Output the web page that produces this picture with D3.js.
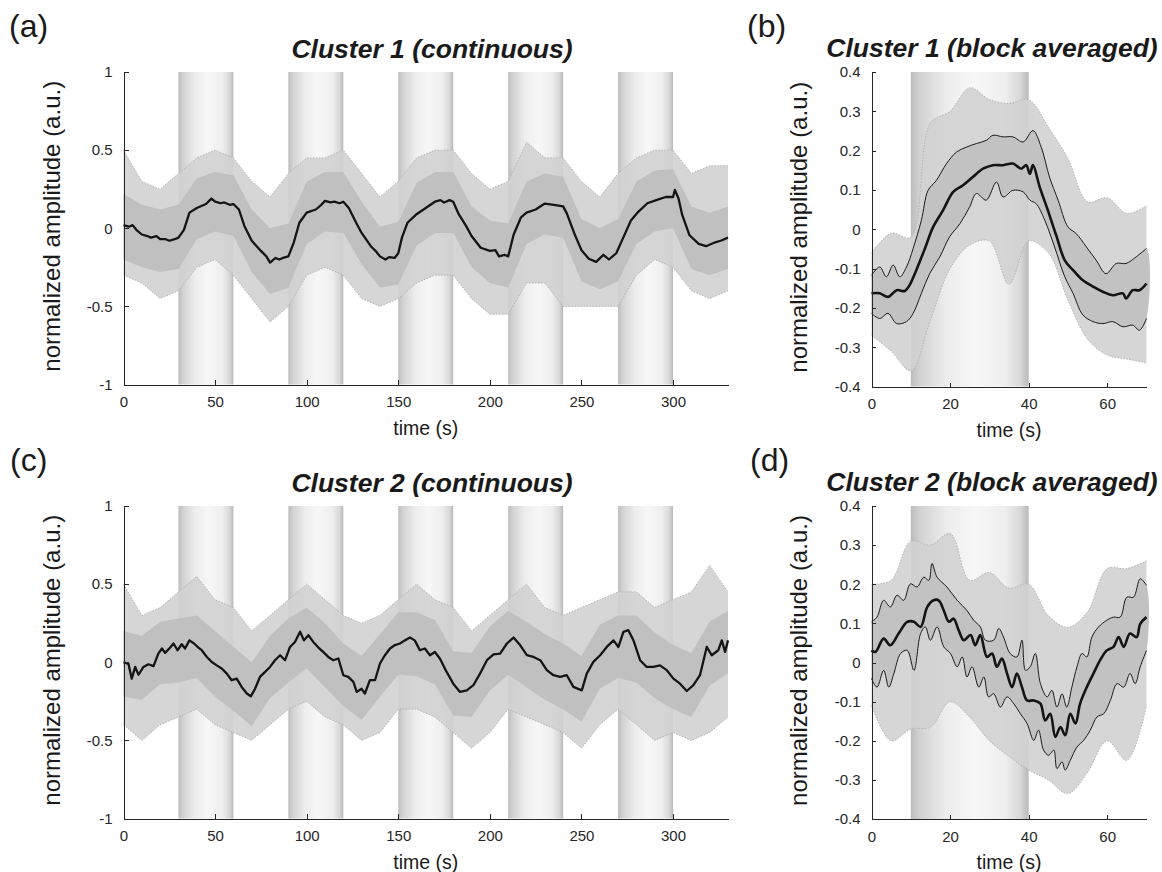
<!DOCTYPE html>
<html>
<head>
<meta charset="utf-8">
<title>Cluster time courses</title>
<style>
  body { margin: 0; background: #fff; }
  svg text { font-family: "Liberation Sans", Arial, Helvetica, sans-serif; fill: #1a1a1a; }
  .axis path, .axis line { stroke: #262626; stroke-width: 1; shape-rendering: crispEdges; }
  .axis text { font-size: 15px; fill: #262626; }
</style>
<script src="https://cdn.jsdelivr.net/npm/d3@7"></script>
</head>
<body>
<script>
// ---- data ----
var blocksCont = [[30, 60], [90, 120], [150, 180], [210, 240], [270, 300]];
var blocksAvg = [[10, 40]];
var xTicksCont = [0, 50, 100, 150, 200, 250, 300];
var xTicksAvg = [0, 20, 40, 60];
var yTicksCont = [-1, -0.5, 0, 0.5, 1];
var yTicksAvg = [-0.4, -0.3, -0.2, -0.1, 0, 0.1, 0.2, 0.3, 0.4];

// grid of the gray spread, seconds
var gridCont = [0,10,20,30,40,50,60,70,80,90,100,110,120,130,140,150,160,170,180,190,200,210,220,230,240,250,260,270,280,290,300,310,320,330];
var gridAvg = [0,5,10,15,20,25,30,35,40,45,50,55,60,65,70];

// cluster 1, continuous
var meanA = [[0,0.02],[3,0.01],[5,0.02],[7,-0.01],[10,-0.04],[13,-0.05],[15,-0.06],[18,-0.05],[20,-0.07],[23,-0.07],[25,-0.08],[28,-0.07],[30,-0.06],[33,-0.01],[36,0.10],[40,0.13],[45,0.155],[48,0.19],[50,0.17],[53,0.16],[55,0.165],[58,0.15],[60,0.155],[63,0.12],[66,0.015],[70,-0.08],[75,-0.145],[78,-0.18],[80,-0.22],[83,-0.19],[85,-0.2],[87,-0.19],[90,-0.18],[93,-0.09],[96,0.035],[100,0.10],[105,0.12],[108,0.15],[110,0.175],[113,0.165],[115,0.17],[118,0.16],[120,0.17],[123,0.13],[127,0.035],[130,-0.03],[135,-0.115],[138,-0.15],[140,-0.18],[143,-0.2],[145,-0.185],[148,-0.19],[150,-0.16],[152,-0.06],[155,0.035],[160,0.09],[165,0.13],[170,0.17],[173,0.18],[175,0.165],[178,0.18],[180,0.17],[183,0.09],[187,0.015],[190,-0.05],[195,-0.125],[200,-0.145],[203,-0.14],[205,-0.18],[208,-0.17],[210,-0.18],[213,-0.04],[217,0.07],[220,0.10],[225,0.12],[230,0.158],[235,0.15],[240,0.14],[242,0.095],[246,-0.03],[250,-0.14],[254,-0.195],[258,-0.215],[262,-0.17],[265,-0.2],[269,-0.16],[273,-0.055],[277,0.05],[281,0.105],[286,0.16],[292,0.185],[296,0.2],[300,0.2],[301,0.245],[303,0.19],[305,0.085],[309,-0.045],[314,-0.1],[318,-0.115],[323,-0.09],[326,-0.08],[330,-0.06]];
var outerHiA = [0.5,0.3,0.25,0.35,0.45,0.5,0.45,0.3,0.2,0.35,0.45,0.45,0.5,0.35,0.2,0.3,0.45,0.5,0.5,0.35,0.25,0.3,0.55,0.45,0.45,0.3,0.2,0.35,0.45,0.5,0.5,0.35,0.4,0.4];
var outerLoA = [-0.3,-0.35,-0.45,-0.4,-0.25,-0.2,-0.3,-0.45,-0.6,-0.5,-0.3,-0.25,-0.3,-0.45,-0.5,-0.45,-0.35,-0.3,-0.3,-0.45,-0.55,-0.55,-0.35,-0.35,-0.5,-0.5,-0.5,-0.5,-0.3,-0.2,-0.25,-0.4,-0.45,-0.4];
var coreHiA = [0.22,0.15,0.12,0.15,0.32,0.36,0.34,0.12,0.0,0.03,0.3,0.36,0.36,0.17,0.01,0.04,0.29,0.36,0.36,0.14,0.05,0.03,0.3,0.35,0.33,0.06,0.0,0.06,0.3,0.37,0.38,0.14,0.1,0.14];
var coreLoA = [-0.2,-0.25,-0.28,-0.26,-0.07,-0.02,-0.05,-0.28,-0.42,-0.38,-0.1,-0.02,-0.03,-0.23,-0.38,-0.36,-0.11,-0.03,-0.03,-0.25,-0.35,-0.38,-0.1,-0.04,-0.06,-0.34,-0.39,-0.34,-0.1,-0.02,0.0,-0.26,-0.3,-0.26];

// cluster 1, block averaged
var meanB = [[0,-0.163],[2.1,-0.163],[4.2,-0.172],[6.4,-0.155],[8.5,-0.157],[9.7,-0.142],[11.4,-0.104],[13.6,-0.049],[15.7,0.006],[18.2,0.048],[20.8,0.095],[23.3,0.112],[25.8,0.133],[28.4,0.154],[30.9,0.163],[33.5,0.163],[36,0.167],[38.1,0.154],[39.4,0.163],[40.3,0.141],[41.1,0.163],[42.8,0.108],[44.9,0.048],[47,-0.015],[49.2,-0.079],[51.3,-0.104],[53.8,-0.13],[56.4,-0.146],[58.9,-0.159],[61.4,-0.168],[64,-0.163],[64.8,-0.176],[66.5,-0.155],[68.2,-0.155],[70,-0.138]];
var upperB = [[0,-0.117],[2.1,-0.096],[3.8,-0.121],[5.5,-0.091],[7.2,-0.121],[8.9,-0.096],[10.6,-0.049],[12.7,0.023],[14.4,0.099],[16.5,0.124],[19.1,0.167],[21.6,0.196],[24.2,0.209],[26.7,0.218],[29.2,0.226],[30.9,0.239],[33.5,0.235],[36,0.235],[38.6,0.222],[41.1,0.251],[43.2,0.209],[45.3,0.133],[47.5,0.074],[50,0.006],[52.1,-0.011],[54.7,-0.045],[57.2,-0.079],[59.7,-0.113],[62.3,-0.087],[64.8,-0.087],[67.4,-0.07],[70,-0.049]];
var lowerB = [[0,-0.214],[2.1,-0.227],[4.2,-0.214],[6.4,-0.24],[8.9,-0.235],[10.6,-0.214],[12.7,-0.163],[14.8,-0.113],[17.4,-0.07],[19.9,-0.019],[22.5,0.014],[25,0.057],[26.7,0.091],[29.2,0.074],[31.8,0.12],[33.5,0.082],[36,0.099],[38.6,0.095],[40.3,0.074],[41.9,0.065],[44.1,0.023],[46.6,-0.045],[49.2,-0.121],[51.3,-0.163],[53.8,-0.218],[56.4,-0.235],[58.9,-0.24],[61.4,-0.235],[64,-0.248],[66.5,-0.244],[68.2,-0.257],[70,-0.227]];
var outerHiB = [-0.06,-0.01,-0.02,0.27,0.3,0.36,0.33,0.32,0.33,0.26,0.18,0.07,0.08,0.04,0.06];
var outerLoB = [-0.27,-0.31,-0.36,-0.23,-0.1,-0.04,-0.03,-0.14,-0.03,-0.06,-0.18,-0.28,-0.32,-0.33,-0.34];

// cluster 2, continuous
var meanC = [[0,0],[2.7,-0.01],[4.5,-0.105],[6.4,-0.03],[8.2,-0.08],[10.9,-0.03],[13.6,-0.013],[16.4,-0.025],[19,0.055],[21,0.088],[22.7,0.06],[25.5,0.094],[27.3,0.12],[29.5,0.077],[31.8,0.115],[33.6,0.088],[36,0.14],[38.5,0.12],[40.9,0.094],[42.7,0.077],[45.5,0.034],[48.2,0.002],[50.9,-0.02],[53.6,-0.04],[56.4,-0.073],[59,-0.115],[61.8,-0.105],[64.5,-0.158],[67.3,-0.2],[69.5,-0.218],[71.8,-0.17],[74.5,-0.094],[77.3,-0.062],[80,-0.03],[82.7,0.013],[85.5,0.045],[88.2,0.013],[90.9,0.098],[93.6,0.13],[96.4,0.195],[98.5,0.14],[100.9,0.173],[103.6,0.13],[106.4,0.094],[109,0.066],[111.8,0.034],[114.5,0.013],[117.3,0.024],[120,-0.083],[122.7,-0.094],[125.5,-0.126],[127.3,-0.19],[130,-0.17],[131.8,-0.2],[134.5,-0.115],[137.3,-0.115],[140,-0.008],[142.7,0.045],[145.5,0.088],[148.2,0.11],[150.9,0.12],[153.6,0.14],[156.4,0.158],[159,0.14],[161.8,0.077],[164.5,0.088],[167.3,0.045],[170,0.066],[172.7,0.024],[176.4,-0.062],[180,-0.137],[183.7,-0.19],[187.4,-0.18],[191,-0.147],[194.6,-0.073],[198.4,0.013],[202,0.05],[205.6,0.055],[209.3,0.12],[212.9,0.158],[216.5,0.11],[220.2,0.045],[223.8,0.034],[227.5,0.013],[231.1,-0.05],[234.7,-0.083],[238.3,-0.094],[242,-0.083],[245.6,-0.158],[250.2,-0.18],[252.9,-0.073],[256.5,0.002],[260.2,0.045],[263.8,0.098],[267.5,0.14],[270.2,0.098],[272.9,0.195],[275.6,0.205],[278.4,0.14],[282,0.013],[285.6,-0.03],[289.3,-0.03],[292.9,-0.02],[296.5,-0.05],[300.2,-0.105],[303.8,-0.137],[307.5,-0.184],[311.1,-0.147],[314.7,-0.083],[318.4,0.098],[321.1,0.045],[324.7,0.077],[326.6,0.14],[328.4,0.066],[330,0.14]];
var outerHiC = [0.5,0.3,0.35,0.45,0.55,0.4,0.35,0.2,0.3,0.4,0.5,0.4,0.3,0.25,0.3,0.4,0.5,0.4,0.35,0.2,0.3,0.4,0.5,0.35,0.3,0.35,0.4,0.45,0.45,0.35,0.4,0.45,0.62,0.45];
var outerLoC = [-0.4,-0.5,-0.4,-0.35,-0.3,-0.4,-0.45,-0.5,-0.4,-0.3,-0.25,-0.35,-0.4,-0.5,-0.45,-0.3,-0.3,-0.35,-0.45,-0.55,-0.45,-0.3,-0.35,-0.4,-0.45,-0.55,-0.4,-0.3,-0.4,-0.5,-0.45,-0.5,-0.45,-0.35];
var coreHiC = [0.2,0.17,0.26,0.28,0.3,0.2,0.1,0.0,0.17,0.28,0.35,0.25,0.12,0.04,0.18,0.32,0.32,0.27,0.07,0.06,0.23,0.33,0.26,0.18,0.12,0.04,0.24,0.3,0.3,0.19,0.11,0.06,0.26,0.33];
var coreLoC = [-0.22,-0.24,-0.14,-0.13,-0.1,-0.22,-0.31,-0.41,-0.23,-0.13,-0.04,-0.16,-0.28,-0.37,-0.22,-0.08,-0.09,-0.14,-0.34,-0.35,-0.18,-0.08,-0.16,-0.24,-0.3,-0.38,-0.17,-0.1,-0.13,-0.23,-0.3,-0.35,-0.15,-0.07];

// cluster 2, block averaged
var meanD = [[0,0.031],[1,0.027],[3.1,0.061],[4.8,0.044],[6.9,0.074],[9.1,0.104],[10.8,0.104],[12.5,0.091],[14.2,0.142],[15.8,0.159],[17.1,0.159],[18.4,0.133],[19.7,0.104],[20.9,0.112],[22.2,0.082],[23.5,0.057],[25.2,0.07],[26.4,0.044],[27.7,0.07],[29.4,0.014],[30.7,0.023],[31.9,-0.011],[33.2,0.01],[34.5,-0.028],[35.8,-0.063],[37,-0.028],[38.3,-0.063],[39.6,-0.097],[41.3,-0.097],[43,-0.105],[44.2,-0.148],[45.5,-0.131],[46.8,-0.19],[48.1,-0.165],[49.3,-0.186],[50.6,-0.131],[51.9,-0.156],[53.1,-0.105],[54.8,-0.063],[56.5,-0.028],[58.2,0.006],[59.9,0.031],[61.6,0.04],[62.9,0.065],[64.2,0.04],[65.8,0.074],[67.5,0.065],[68.4,0.099],[70,0.116]];
var upperD = [[0,0.104],[1.4,0.116],[3.1,0.159],[4.8,0.142],[6.5,0.172],[8.2,0.159],[9.9,0.201],[11.6,0.193],[13.3,0.218],[14.6,0.21],[15.4,0.253],[16.7,0.218],[19.2,0.193],[21.8,0.159],[24.3,0.133],[26,0.108],[27.7,0.091],[29,0.057],[31.1,0.057],[32.4,0.087],[33.6,0.065],[35.3,0.023],[37,0.014],[38.3,0.057],[39.2,-0.02],[40.4,-0.011],[41.7,0.023],[43,-0.054],[44.7,-0.088],[45.9,-0.071],[47.2,-0.114],[48.5,-0.08],[49.7,-0.114],[51,-0.063],[52.3,-0.011],[53.6,0.023],[54.8,0.014],[56.1,0.065],[57.8,0.091],[59.9,0.108],[61.6,0.116],[63.3,0.116],[65,0.167],[66.7,0.167],[68.4,0.214],[70,0.197]];
var lowerD = [[0,-0.041],[1.4,-0.063],[3.1,-0.02],[4.4,-0.063],[5.7,-0.028],[7.4,0.023],[9.1,0.031],[10.8,-0.02],[12.5,0.074],[13.7,0.091],[15,0.057],[16.7,0.091],[18.4,0.04],[20.1,0.023],[21.8,-0.011],[23.1,0.014],[24.3,-0.037],[25.6,-0.011],[27.3,-0.063],[28.6,-0.037],[29.8,-0.088],[31.1,-0.08],[32.8,-0.114],[34.5,-0.088],[36.2,-0.105],[37.9,-0.131],[39.6,-0.156],[41.3,-0.199],[42.5,-0.173],[43.8,-0.224],[45.1,-0.237],[46.4,-0.224],[47.2,-0.271],[48.5,-0.254],[49.3,-0.275],[50.6,-0.25],[52.3,-0.216],[54,-0.199],[55.7,-0.173],[57.4,-0.139],[59.1,-0.131],[60.8,-0.097],[62.5,-0.054],[64.2,-0.063],[65.8,-0.028],[67.1,-0.054],[68.4,-0.011],[70,0.031]];
var outerHiD = [0.2,0.21,0.31,0.3,0.33,0.21,0.23,0.19,0.2,0.12,0.09,0.13,0.24,0.24,0.26];
var outerLoD = [-0.11,-0.2,-0.17,-0.165,-0.1,-0.14,-0.2,-0.24,-0.275,-0.3,-0.335,-0.28,-0.2,-0.25,-0.11];

var svg = d3.select("body").append("svg")
    .attr("width", 1162)
    .attr("height", 872);

// block shading, dark at the edges and pale in the middle
var grad = svg.append("defs").append("linearGradient")
    .attr("id", "shade")
    .attr("x1", 0).attr("x2", 1).attr("y1", 0).attr("y2", 0);
[[0, "#bcbcbc"], [0.08, "#d2d2d2"], [0.3, "#ededed"], [0.55, "#f7f7f7"], [0.8, "#eeeeee"], [0.93, "#d8d8d8"], [1, "#b8b8b8"]]
  .forEach(function(s) {
    grad.append("stop").attr("offset", s[0]).attr("stop-color", s[1]);
  });

function fmt(v) { return String(v); }

function drawPanel(p) {
  var x = d3.scaleLinear().domain(p.xDomain).range([p.left, p.right]);
  var y = d3.scaleLinear().domain(p.yDomain).range([p.bottom, p.top]);
  var g = svg.append("g");
  var curve = p.smooth ? d3.curveCatmullRom : d3.curveLinear;

  g.selectAll("rect.block")
    .data(p.blocks)
    .join("rect")
      .attr("class", "block")
      .attr("x", function(d) { return x(d[0]); })
      .attr("width", function(d) { return x(d[1]) - x(d[0]); })
      .attr("y", p.top)
      .attr("height", p.bottom - p.top)
      .attr("fill", "url(#shade)");

  // gray individual traces, shown as their spread
  var outer = d3.zip(p.grid, p.outerLo, p.outerHi);
  var area = d3.area()
      .x(function(d) { return x(d[0]); })
      .y0(function(d) { return y(d[1]); })
      .y1(function(d) { return y(d[2]); })
      .curve(curve);
  g.append("path")
      .attr("d", area(outer))
      .attr("fill", "#d2d2d2")
      .attr("opacity", 0.9);

  var edge = d3.line()
      .x(function(d) { return x(d[0]); })
      .y(function(d) { return y(d[1]); })
      .curve(curve);

  if (p.coreHi) {
    var core = d3.zip(p.grid, p.coreLo, p.coreHi);
    g.append("path")
        .attr("d", area(core))
        .attr("fill", "#c0c0c0");
  } else {
    var ring = p.upper.concat(p.lower.slice().reverse());
    g.append("path")
        .attr("d", edge(ring) + "Z")
        .attr("fill", "#c2c2c2");
  }

  [p.outerLo, p.outerHi].forEach(function(arr) {
    g.append("path")
        .attr("d", edge(d3.zip(p.grid, arr)))
        .attr("fill", "none")
        .attr("stroke", "#b4b4b4")
        .attr("stroke-width", 1)
        .attr("stroke-dasharray", "1.5,1.5");
  });

  if (p.upper) {
    [p.upper, p.lower].forEach(function(arr) {
      g.append("path")
          .attr("d", edge(arr))
          .attr("fill", "none")
          .attr("stroke", "#1a1a1a")
          .attr("stroke-width", 1);
    });
  }

  g.append("path")
      .attr("d", edge(p.mean))
      .attr("fill", "none")
      .attr("stroke", "#141414")
      .attr("stroke-width", p.meanWidth)
      .attr("stroke-linejoin", "round");

  // axes, ticks pointing inward
  g.append("g")
      .attr("class", "axis")
      .attr("transform", "translate(" + p.left + ",0)")
      .call(d3.axisLeft(y).tickValues(p.yTicks).tickFormat(fmt)
        .tickSizeInner(-p.tick).tickSizeOuter(0).tickPadding(11));
  g.append("g")
      .attr("class", "axis")
      .attr("transform", "translate(0," + p.bottom + ")")
      .call(d3.axisBottom(x).tickValues(p.xTicks).tickFormat(fmt)
        .tickSizeInner(-p.tick).tickSizeOuter(0).tickPadding(12));

  g.append("text")
      .attr("x", (p.left + p.right) / 2)
      .attr("y", p.bottom + 50)
      .attr("text-anchor", "middle")
      .style("font-size", "19.5px")
      .text("time (s)");

  g.append("text")
      .attr("transform", "translate(" + p.ylabX + "," + ((p.top + p.bottom) / 2 - 2) + ") rotate(-90)")
      .attr("text-anchor", "middle")
      .style("font-size", "24px")
      .text("normalized amplitude (a.u.)");

  g.append("text")
      .attr("x", p.titleX)
      .attr("y", p.titleY)
      .attr("text-anchor", "middle")
      .style("font-size", "26.5px")
      .style("font-weight", "bold")
      .style("font-style", "italic")
      .text(p.title);

  g.append("text")
      .attr("x", p.tagX)
      .attr("y", p.tagY)
      .style("font-size", "32px")
      .text(p.tag);
}

drawPanel({
  tag: "(a)", tagX: 9, tagY: 37,
  title: "Cluster 1 (continuous)", titleX: 432, titleY: 58,
  left: 123.5, right: 728, top: 72, bottom: 384.5, ylabX: 60, tick: 5,
  xDomain: [0, 330], yDomain: [-1, 1], xTicks: xTicksCont, yTicks: yTicksCont,
  blocks: blocksCont, grid: gridCont, outerHi: outerHiA, outerLo: outerLoA,
  coreHi: coreHiA, coreLo: coreLoA, mean: meanA, meanWidth: 2.3
});
drawPanel({
  tag: "(b)", tagX: 747, tagY: 37,
  title: "Cluster 1 (block averaged)", titleX: 992, titleY: 57,
  left: 871.5, right: 1146.5, top: 72, bottom: 386.5, ylabX: 807, tick: 4,
  xDomain: [0, 70], yDomain: [-0.4, 0.4], xTicks: xTicksAvg, yTicks: yTicksAvg,
  blocks: blocksAvg, grid: gridAvg, outerHi: outerHiB, outerLo: outerLoB,
  upper: upperB, lower: lowerB, mean: meanB, meanWidth: 2.6, smooth: true
});
drawPanel({
  tag: "(c)", tagX: 10, tagY: 471,
  title: "Cluster 2 (continuous)", titleX: 432, titleY: 492,
  left: 123.5, right: 728, top: 506, bottom: 818.5, ylabX: 60, tick: 5,
  xDomain: [0, 330], yDomain: [-1, 1], xTicks: xTicksCont, yTicks: yTicksCont,
  blocks: blocksCont, grid: gridCont, outerHi: outerHiC, outerLo: outerLoC,
  coreHi: coreHiC, coreLo: coreLoC, mean: meanC, meanWidth: 2.3
});
drawPanel({
  tag: "(d)", tagX: 750, tagY: 471,
  title: "Cluster 2 (block averaged)", titleX: 992, titleY: 491,
  left: 871.5, right: 1146.5, top: 506, bottom: 819, ylabX: 807, tick: 4,
  xDomain: [0, 70], yDomain: [-0.4, 0.4], xTicks: xTicksAvg, yTicks: yTicksAvg,
  blocks: blocksAvg, grid: gridAvg, outerHi: outerHiD, outerLo: outerLoD,
  upper: upperD, lower: lowerD, mean: meanD, meanWidth: 2.6, smooth: true
});
</script>
</body>
</html>
